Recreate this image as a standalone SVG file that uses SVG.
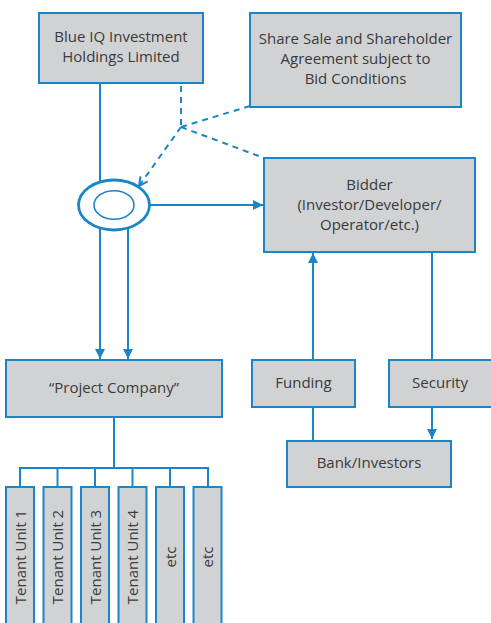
<svg xmlns="http://www.w3.org/2000/svg" width="491" height="623" viewBox="0 0 491 623">
<defs>
<style>
.box{fill:#d1d2d4;stroke:#1a86c8;stroke-width:2}
.ln{fill:none;stroke:#1a86c8;stroke-width:2}
.dash{fill:none;stroke:#1a86c8;stroke-width:2;stroke-dasharray:6 5}
.t{font-family:"Open Sans","Noto Sans",sans-serif;font-size:15px;fill:#3a3a3a;text-anchor:middle}
</style>
<marker id="ah" viewBox="0 0 10 10" refX="10" refY="5" markerWidth="10" markerHeight="10" markerUnits="userSpaceOnUse" orient="auto">
<path d="M0,0 L10,5 L0,10 z" fill="#1a86c8"/>
</marker>
<marker id="ahd" viewBox="0 0 10 10" refX="9" refY="5" markerWidth="11" markerHeight="11" markerUnits="userSpaceOnUse" orient="auto">
<path d="M1,1 L9,5 L1,9" fill="none" stroke="#1a86c8" stroke-width="1.8"/>
</marker>
</defs>
<rect width="491" height="623" fill="#ffffff"/>
<g id="connectors">
<line class="ln" x1="100" y1="83" x2="100" y2="181"/>
<line class="dash" x1="181" y1="86" x2="181" y2="127"/>
<line class="dash" x1="250" y1="106" x2="181" y2="127"/>
<line class="dash" x1="181" y1="127" x2="264" y2="158"/>
<line class="dash" x1="181" y1="127" x2="139" y2="186" marker-end="url(#ahd)"/>
<line class="ln" x1="150" y1="205" x2="263" y2="205" marker-end="url(#ah)"/>
<line class="ln" x1="100" y1="229" x2="100" y2="359" marker-end="url(#ah)"/>
<line class="ln" x1="128" y1="227" x2="128" y2="359" marker-end="url(#ah)"/>
<line class="ln" x1="313" y1="360" x2="313" y2="253" marker-end="url(#ah)"/>
<line class="ln" x1="432" y1="252" x2="432" y2="360"/>
<line class="ln" x1="313" y1="407" x2="313" y2="440"/>
<line class="ln" x1="432" y1="407" x2="432" y2="439" marker-end="url(#ah)"/>
<line class="ln" x1="114" y1="417" x2="114" y2="468"/>
<polyline class="ln" points="20,487 20,468 208,468 208,487"/>
<line class="ln" x1="57.5" y1="468" x2="57.5" y2="487"/>
<line class="ln" x1="95" y1="468" x2="95" y2="487"/>
<line class="ln" x1="132.5" y1="468" x2="132.5" y2="487"/>
<line class="ln" x1="170" y1="468" x2="170" y2="487"/>
</g>
<g id="blueiq">
<rect class="box" x="39" y="13" width="164" height="70"/>
<text class="t" x="121" y="42">Blue IQ Investment</text>
<text class="t" x="121" y="62">Holdings Limited</text>
</g>
<g id="sharesale">
<rect class="box" x="250" y="13" width="211" height="94"/>
<text class="t" x="355.5" y="44">Share Sale and Shareholder</text>
<text class="t" x="355.5" y="64">Agreement subject to</text>
<text class="t" x="355.5" y="84">Bid Conditions</text>
</g>
<g id="ring">
<ellipse cx="114" cy="205" rx="35.5" ry="25" fill="#ffffff" stroke="#1a86c8" stroke-width="2.8"/>
<ellipse cx="114" cy="205" rx="20" ry="14.3" fill="#ffffff" stroke="#1a86c8" stroke-width="1.6"/>
</g>
<g id="bidder">
<rect class="box" x="264" y="158" width="211" height="94"/>
<text class="t" x="369.5" y="190">Bidder</text>
<text class="t" x="369.5" y="210">(Investor/Developer/</text>
<text class="t" x="369.5" y="230">Operator/etc.)</text>
</g>
<g id="project">
<rect class="box" x="6" y="360" width="216" height="57"/>
<text class="t" x="114" y="393">“Project Company”</text>
</g>
<g id="funding">
<rect class="box" x="252" y="360" width="103" height="47"/>
<text class="t" x="303.5" y="388">Funding</text>
</g>
<g id="security">
<rect class="box" x="389" y="360" width="103" height="47"/>
<text class="t" x="440" y="388">Security</text>
</g>
<g id="bank">
<rect class="box" x="287" y="441" width="164" height="46"/>
<text class="t" x="369" y="468">Bank/Investors</text>
</g>
<g id="tenant1">
<rect class="box" x="6" y="487" width="28" height="140"/>
<text class="t" transform="translate(25.5 557) rotate(-90)" x="0" y="0">Tenant Unit 1</text>
</g>
<g id="tenant2">
<rect class="box" x="43.5" y="487" width="28" height="140"/>
<text class="t" transform="translate(63 557) rotate(-90)" x="0" y="0">Tenant Unit 2</text>
</g>
<g id="tenant3">
<rect class="box" x="81" y="487" width="28" height="140"/>
<text class="t" transform="translate(100.5 557) rotate(-90)" x="0" y="0">Tenant Unit 3</text>
</g>
<g id="tenant4">
<rect class="box" x="118.5" y="487" width="28" height="140"/>
<text class="t" transform="translate(138 557) rotate(-90)" x="0" y="0">Tenant Unit 4</text>
</g>
<g id="etc1">
<rect class="box" x="156" y="487" width="28" height="140"/>
<text class="t" transform="translate(175.5 557) rotate(-90)" x="0" y="0">etc</text>
</g>
<g id="etc2">
<rect class="box" x="193.5" y="487" width="28" height="140"/>
<text class="t" transform="translate(213 557) rotate(-90)" x="0" y="0">etc</text>
</g>
</svg>
